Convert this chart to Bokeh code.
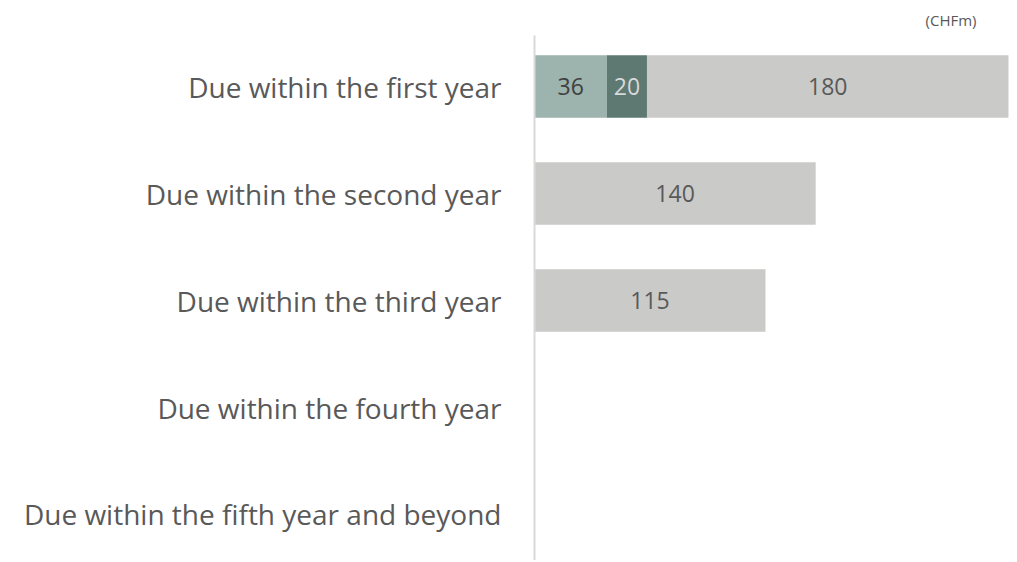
from bokeh.plotting import figure
from bokeh.models import ColumnDataSource, Range1d, FixedTicker
from bokeh.core.properties import value
from bokeh.embed import file_html
from bokeh.resources import INLINE

categories = ["Due within the first year", "Due within the second year",
              "Due within the third year", "Due within the fourth year",
              "Due within the fifth year and beyond"]
seg_a = [36, 0, 0, 0, 0]
seg_b = [20, 0, 0, 0, 0]
seg_c = [180, 140, 115, 0, 0]
unit_label = "(CHFm)"

col_a = "#9db3ad"
col_b = "#5e7872"
col_c = "#cacac8"

n = len(categories)
ypos = [n - 1 - i for i in range(n)]

left_b = [a for a in seg_a]
left_c = [a + b for a, b in zip(seg_a, seg_b)]
right_c = [a + b + c for a, b, c in zip(seg_a, seg_b, seg_c)]

src = ColumnDataSource(dict(
    y=ypos, a=seg_a, b=seg_b, c=seg_c,
    lb=left_b, lc=left_c, rc=right_c,
    ma=[v / 2 for v in seg_a],
    mb=[l + v / 2 for l, v in zip(left_b, seg_b)],
    mc=[l + v / 2 for l, v in zip(left_c, seg_c)],
    ta=[str(v) if v else "" for v in seg_a],
    tb=[str(v) if v else "" for v in seg_b],
    tc=[str(v) if v else "" for v in seg_c],
))

p = figure(width=1010, height=560, output_backend="svg", toolbar_location=None,
           x_range=Range1d(0, 237), y_range=Range1d(-0.43, n - 1 + 0.477),
           min_border_left=534, min_border_right=0, min_border_top=35,
           min_border_bottom=0, title=unit_label)
p.outline_line_color = None
p.grid.visible = False
p.xaxis.visible = False
p.background_fill_color = "white"
p.border_fill_color = "white"

p.title.align = "right"
p.title.offset = 34
p.title.text_font = "Open Sans"
p.title.text_font_size = "15px"
p.title.text_font_style = "normal"
p.title.text_color = "#595959"
p.title.standoff = 11

h = 0.585
p.hbar(y="y", left=0, right="a", height=h, source=src, fill_color=col_a, line_color=None)
p.hbar(y="y", left="lb", right="lc", height=h, source=src, fill_color=col_b, line_color=None)
p.hbar(y="y", left="lc", right="rc", height=h, source=src, fill_color=col_c, line_color=None)

fnt = value("Open Sans")
p.text(x="ma", y="y", text="ta", source=src, text_align="center", text_baseline="middle",
       text_font=fnt, text_font_size="23px", text_color="#404040")
p.text(x="mb", y="y", text="tb", source=src, text_align="center", text_baseline="middle",
       text_font=fnt, text_font_size="23px", text_color="#d9d9d9")
p.text(x="mc", y="y", text="tc", source=src, text_align="center", text_baseline="middle",
       text_font=fnt, text_font_size="23px", text_color="#595959")

ax = p.yaxis[0]
ax.ticker = FixedTicker(ticks=ypos)
ax.major_label_overrides = {y: c for y, c in zip(ypos, categories)}
ax.major_label_text_font = "Open Sans"
ax.major_label_text_font_size = "28px"
ax.major_label_text_color = "#595959"
ax.major_label_standoff = 33
ax.major_tick_out = 0
ax.major_tick_in = 0
ax.major_tick_line_color = None
ax.minor_tick_line_color = None
ax.axis_line_color = "#d9d9d9"
ax.axis_line_width = 2

open("out.html", "w").write(file_html(p, INLINE))
